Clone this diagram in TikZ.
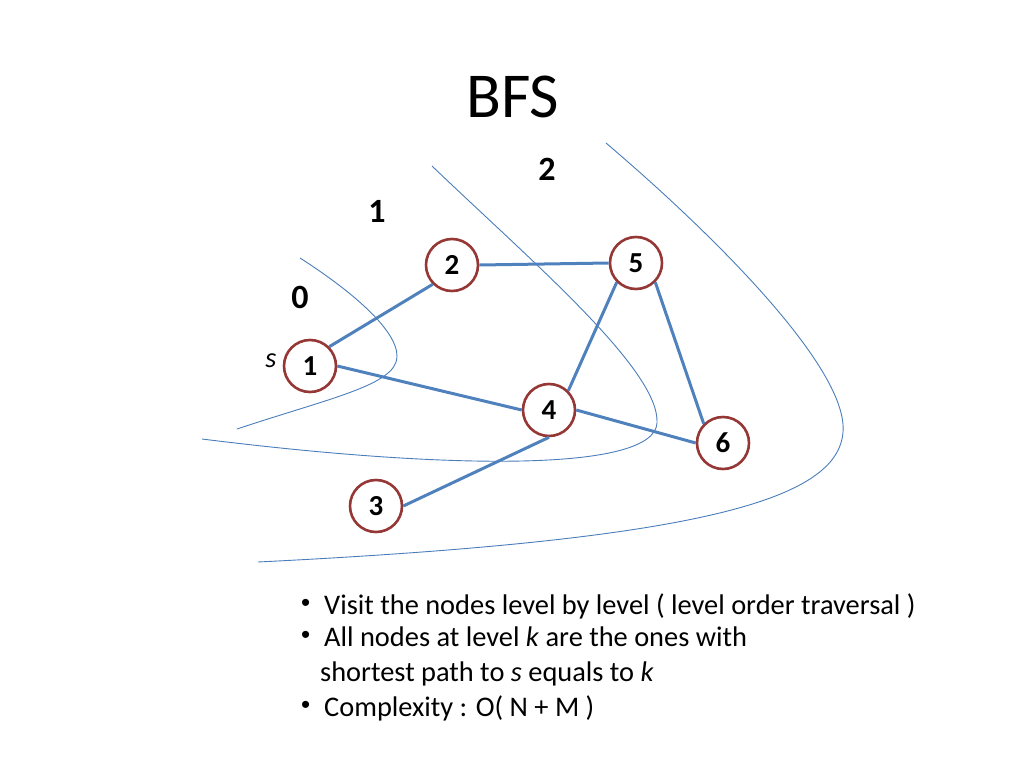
\documentclass[tikz,border=0pt]{standalone}
\usepackage{fontspec}
\setmainfont{Carlito}[Numbers=Lining]
\newfontfamily\bulletfont{Liberation Sans}
\definecolor{nodered}{RGB}{149,55,53}
\definecolor{edgeblue}{RGB}{79,129,189}
\definecolor{thinblue}{RGB}{74,126,187}
\begin{document}
\begin{tikzpicture}[x=1pt,y=-1pt,
  vtx/.style={circle,draw=nodered,line width=2.6pt,fill=white,minimum size=52pt,inner sep=0pt,font=\fontsize{29}{34}\selectfont\bfseries},
  edge/.style={draw=edgeblue,line width=3pt},
  level/.style={draw=thinblue,line width=0.9pt},
  lvl/.style={font=\fontsize{34}{40}\selectfont\bfseries,inner sep=0pt},
  bul/.style={font=\fontsize{28.4}{34}\selectfont,anchor=base west,inner sep=0pt},
  dot/.style={font=\bulletfont\fontsize{26}{32}\selectfont,anchor=base west,inner sep=0pt}]
\useasboundingbox (0,0) rectangle (1024,768);
% level curves
\draw[level] (300,258) .. controls (350,290) and (398,330) .. (397,357)
             .. controls (396,385) and (330,398) .. (237,429);
\draw[level] (432,166) .. controls (530,260) and (660,370) .. (657,423)
             .. controls (654,472) and (450,470) .. (202,439);
\draw[level] (606,143) .. controls (720,240) and (848,370) .. (843,432)
             .. controls (838,500) and (700,540) .. (258,562);
% title
\node[font=\fontsize{64}{72}\selectfont,anchor=base,inner sep=0pt] (title) at (513,117) {BFS};
% level labels
\node[lvl] (l0) at (300,297) {0};
\node[lvl] (l1) at (377,211) {1};
\node[lvl] (l2) at (547,169) {2};
% vertices
\node[vtx] (n1) at (310,366) {1};
\node[vtx] (n2) at (452,265) {2};
\node[vtx] (n5) at (636,263) {5};
\node[vtx] (n4) at (549,410) {4};
\node[vtx] (n6) at (723,443) {6};
\node[vtx] (n3) at (376,506) {3};
\node[font=\fontsize{28.4}{34}\selectfont\itshape,inner sep=0pt] (s) at (271,361) {s};
% edges
\draw[edge] (n1.north east) -- (n2.south west);
\draw[edge] (n1.east) -- (n4.west);
\draw[edge] (n2.east) -- (n5.west);
\draw[edge] (n5.south west) -- (n4.north east);
\draw[edge] (n5.south east) -- (n6.north west);
\draw[edge] (n4.east) -- (n6.west);
\draw[edge] (n4.south) -- (n3.east);
% bullets
\node[dot] (b1d) at (301,611) {•};
\node[bul] (b1) at (324,614) {Visit the nodes level by level ( level order traversal )};
\node[dot] (b2d) at (301,643) {•};
\node[bul] (b2) at (324,646) {All nodes at level \textit{k} are the ones with};
\node[bul] (b3) at (320,681) {shortest path to \textit{s} equals to \textit{k}};
\node[dot] (b4d) at (301,713) {•};
\node[bul] (b4) at (324,716) {Complexity : O( N + M )};
\end{tikzpicture}
\end{document}
